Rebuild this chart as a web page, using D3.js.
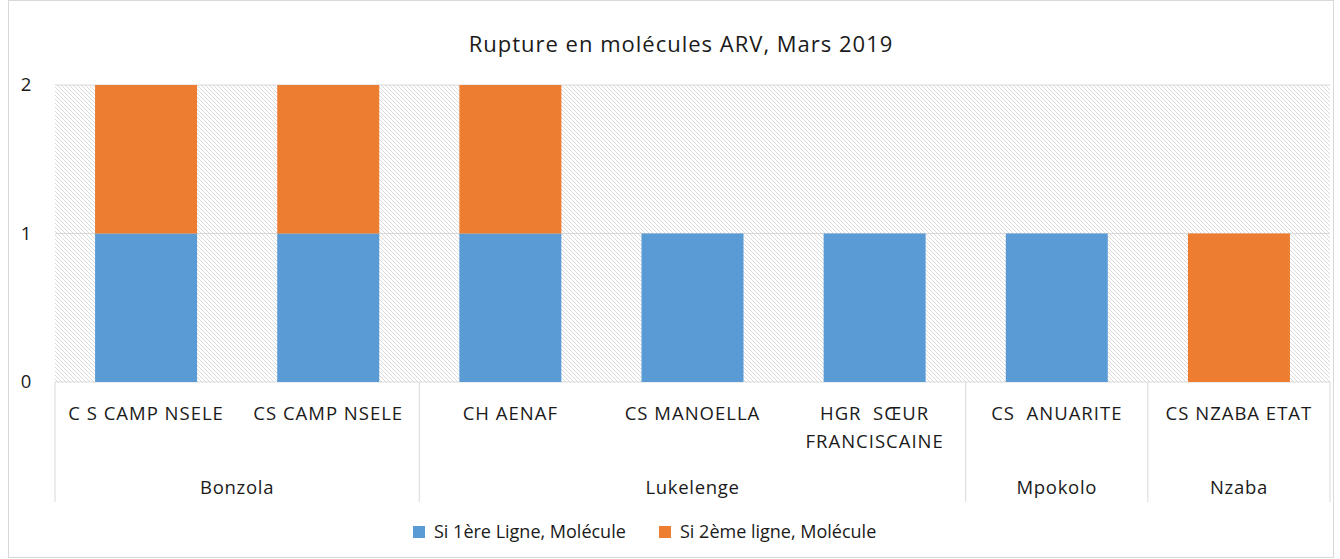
<!DOCTYPE html>
<html>
<head>
<meta charset="utf-8">
<script src="https://cdn.jsdelivr.net/npm/d3@7"></script>
<style>
  body { margin: 0; background: white; }
  text { font-family: "Open Sans", Lato, sans-serif; fill: #1a1a1a; }
</style>
</head>
<body>
<svg id="chart" width="1340" height="559"></svg>
<script>
let categories = ["C S CAMP NSELE", "CS CAMP NSELE", "CH AENAF", "CS MANOELLA", "HGR  SŒUR|FRANCISCAINE", "CS  ANUARITE", "CS NZABA ETAT"]
let groups = ["Bonzola", "Lukelenge", "Mpokolo", "Nzaba"]
let groupSizes = [2, 3, 1, 1]
let series1 = [1, 1, 1, 1, 1, 1, 0]
let series2 = [1, 1, 1, 0, 0, 0, 1]
let seriesNames = ["Si 1ère Ligne, Molécule", "Si 2ème ligne, Molécule"]
let colors = ["#5B9BD5", "#ED7D31"]
let yTicks = [0, 1, 2]

let svg = d3.select("#chart")
let plotLeft = 55, plotRight = 1330, plotTop = 85, plotBottom = 382

// chart border
svg.append("rect")
    .attr("x", 8.5).attr("y", 0.5)
    .attr("width", 1325).attr("height", 557)
    .attr("fill", "white").attr("stroke", "#d9d9d9")

let defs = svg.append("defs")
let pat = defs.append("pattern")
    .attr("id", "hatch")
    .attr("patternUnits", "userSpaceOnUse")
    .attr("width", 4).attr("height", 4)
pat.append("rect").attr("width", 4).attr("height", 4).attr("fill", "white")
pat.append("path")
    .attr("d", "M-1,-1 L5,5 M-1,3 L1,5 M3,-1 L5,1")
    .attr("stroke", "#dadada").attr("stroke-width", 1)

let x = d3.scaleBand().domain(d3.range(categories.length)).range([plotLeft, plotRight]).paddingInner(0.44).paddingOuter(0.22)
let xFull = d3.scaleBand().domain(d3.range(categories.length)).range([plotLeft, plotRight])
let y = d3.scaleLinear().domain([0, 2]).range([plotBottom, plotTop])

svg.append("rect")
    .attr("x", plotLeft).attr("y", plotTop)
    .attr("width", plotRight - plotLeft).attr("height", plotBottom - plotTop)
    .attr("fill", "url(#hatch)")

svg.selectAll(".grid").data(yTicks).enter().append("line")
    .attr("x1", plotLeft).attr("x2", plotRight)
    .attr("y1", d => y(d)).attr("y2", d => y(d))
    .attr("stroke", "#d9d9d9").attr("stroke-width", 1)

svg.selectAll(".ytick").data(yTicks).enter().append("text")
    .attr("x", 26).attr("y", d => y(d))
    .attr("dy", "0.35em")
    .attr("text-anchor", "middle")
    .attr("font-size", "18.5px")
    .text(d => d)

// bars
let stackData = categories.map((c, i) => ({i: i, a: series1[i], b: series2[i]}))
svg.selectAll(".b1").data(stackData).enter().append("rect")
    .attr("x", d => x(d.i)).attr("width", x.bandwidth())
    .attr("y", d => y(d.a)).attr("height", d => y(0) - y(d.a))
    .attr("fill", colors[0])
svg.selectAll(".b2").data(stackData).enter().append("rect")
    .attr("x", d => x(d.i)).attr("width", x.bandwidth())
    .attr("y", d => y(d.a + d.b)).attr("height", d => y(d.a) - y(d.a + d.b))
    .attr("fill", colors[1])

// category labels
categories.forEach((c, i) => {
    let lines = c.split("|")
    let t = svg.append("text")
        .attr("x", xFull(i) + xFull.bandwidth() / 2)
        .attr("y", 420)
        .attr("text-anchor", "middle")
        .attr("font-size", "18.5px")
        .attr("letter-spacing", "1px")
        .style("white-space", "pre")
    lines.forEach((l, k) => {
        t.append("tspan")
            .attr("x", xFull(i) + xFull.bandwidth() / 2)
            .attr("dy", k == 0 ? 0 : 28)
            .text(l)
    })
})

// group separators + labels
let bounds = [0]
groupSizes.forEach(s => bounds.push(bounds[bounds.length - 1] + s))
bounds.forEach(b => {
    let xx = b < categories.length ? xFull(b) : plotRight
    svg.append("line")
        .attr("x1", xx).attr("x2", xx)
        .attr("y1", plotBottom).attr("y2", 502)
        .attr("stroke", "#d9d9d9")
})
groups.forEach((g, k) => {
    let x0 = xFull(bounds[k])
    let x1 = bounds[k + 1] < categories.length ? xFull(bounds[k + 1]) : plotRight
    svg.append("text")
        .attr("x", (x0 + x1) / 2).attr("y", 494)
        .attr("text-anchor", "middle")
        .attr("font-size", "18.5px")
        .attr("letter-spacing", "0.7px")
        .text(g)
})

// title
svg.append("text")
    .attr("x", 681).attr("y", 52)
    .attr("text-anchor", "middle")
    .attr("font-size", "22px")
    .attr("letter-spacing", "1px")
    .text("Rupture en molécules ARV, Mars 2019")

// legend
let legendX = [413, 659]
seriesNames.forEach((n, k) => {
    svg.append("rect")
        .attr("x", legendX[k]).attr("y", 526)
        .attr("width", 12).attr("height", 12)
        .attr("fill", colors[k])
    svg.append("text")
        .attr("x", legendX[k] + 21).attr("y", 538)
        .attr("font-size", "18px")
        .text(n)
})
</script>
</body>
</html>
